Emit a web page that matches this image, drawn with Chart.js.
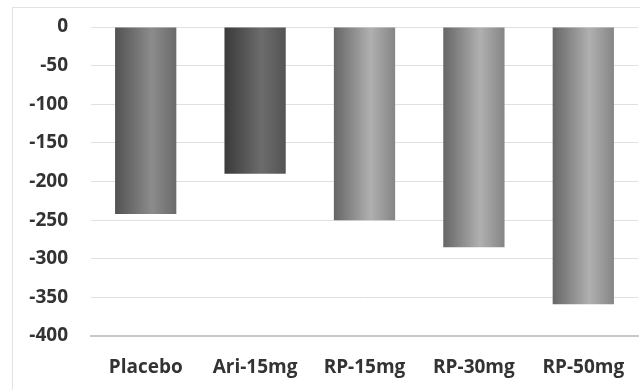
<!DOCTYPE html>
<html>
<head>
<meta charset="utf-8">
<script src="https://cdn.jsdelivr.net/npm/chart.js@4/dist/chart.umd.min.js"></script>
<style>
  html, body { margin: 0; padding: 0; background: #ffffff; }
  #wrap { position: relative; width: 640px; height: 390px; overflow: hidden; }
  #frame { position: absolute; left: 12px; top: 7px; width: 700px; height: 450px;
           border: 1px solid #e2e2e2; box-sizing: border-box; }
  canvas { position: absolute; left: 0; top: 0; }
</style>
</head>
<body>
<div id="wrap">
  <div id="frame"></div>
  <canvas id="chart" width="640" height="390"></canvas>
</div>
<script>
// Change from baseline by treatment group
const categories = ['Placebo', 'Ari-15mg', 'RP-15mg', 'RP-30mg', 'RP-50mg'];
const values = [-242, -190, -250, -285, -359];
const yTicks = [0, -50, -100, -150, -200, -250, -300, -350, -400];

// shaded cylinder-like fills: [left edge, highlight, right edge]
const shades = [
  ['#525252', '#8c8c8c', '#6a6a6a'],
  ['#3a3a3a', '#6c6c6c', '#545454'],
  ['#666666', '#b0b0b0', '#858585'],
  ['#666666', '#b0b0b0', '#858585'],
  ['#666666', '#b0b0b0', '#858585']
];

const CAT_PCT = 0.56;

function barFill(ctx) {
  const chart = ctx.chart;
  const xs = chart.scales && chart.scales.x;
  const s = shades[ctx.dataIndex % shades.length];
  if (!xs || xs.width === undefined) return s[1];
  const cx = xs.getPixelForValue(ctx.dataIndex);
  const w = (xs.width / categories.length) * CAT_PCT;
  const x0 = cx - w / 2, x1 = cx + w / 2;
  if (!isFinite(x0) || !isFinite(x1)) return s[1];
  const g = chart.ctx.createLinearGradient(x0, 0, x1, 0);
  g.addColorStop(0, s[0]);
  g.addColorStop(0.6, s[1]);
  g.addColorStop(1, s[2]);
  return g;
}

const labelFont = { family: "'Open Sans'", weight: 'bold', size: 19 };

new Chart(document.getElementById('chart'), {
  type: 'bar',
  data: {
    labels: categories,
    datasets: [{
      data: values,
      backgroundColor: barFill,
      borderWidth: 0,
      categoryPercentage: CAT_PCT,
      barPercentage: 1
    }]
  },
  options: {
    responsive: false,
    animation: false,
    events: [],
    layout: { padding: { top: 27, right: 2, bottom: 0, left: 0 } },
    plugins: { legend: { display: false }, tooltip: { enabled: false }, title: { display: false } },
    scales: {
      x: {
        grid: { display: false, drawTicks: false },
        border: { display: true, color: '#c8c8c8', width: 2 },
        ticks: { color: '#333333', font: labelFont, padding: 20, maxRotation: 0 },
        afterFit(scale) {
          scale.height = 54;
          scale.paddingLeft = 0;
          scale.paddingRight = 0;
        }
      },
      y: {
        min: -400,
        max: 0,
        afterBuildTicks(scale) { scale.ticks = yTicks.map(v => ({ value: v })); },
        grid: { color: '#e0e0e0', lineWidth: 1, drawTicks: false },
        border: { display: false },
        ticks: { color: '#333333', font: labelFont, padding: 23 },
        afterFit(scale) {
          scale.width = 91;
          scale.paddingTop = 0;
          scale.paddingBottom = 0;
        }
      }
    }
  }
});
</script>
</body>
</html>
